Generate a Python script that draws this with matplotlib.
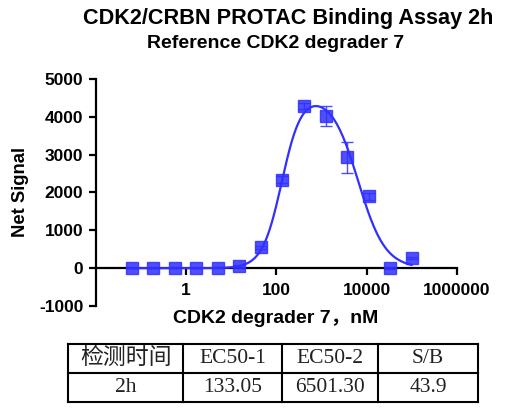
import numpy as np
import matplotlib
matplotlib.use("Agg")
from matplotlib import pyplot as plt
from matplotlib.lines import Line2D

# concentrations (nM), 3-fold dilution series
conc = [0.0627, 0.188, 0.565, 1.69, 5.08, 15.2, 45.7, 137, 412, 1235, 3704, 11111, 33333, 100000]
signal = [5, 8, 10, 8, 12, 60, 556, 2340, 4290, 4020, 2930, 1900, 5, 265]
sd = [10, 10, 10, 10, 15, 30, 40, 100, 80, 260, 410, 90, 15, 20]

# bell-shaped fit parameters
ec50_1 = 133.05
ec50_2 = 6501.30
hill_1 = 2.0
hill_2 = 1.45
peak = 4280

table_header = ["检测时间", "EC50-1", "EC50-2", "S/B"]
table_row = ["2h", "133.05", "6501.30", "43.9"]

blue = "#3030ff"
plt.rcParams['font.family'] = ['Liberation Sans', 'Noto Sans CJK SC']
plt.rcParams['axes.unicode_minus'] = False

fig = plt.figure(figsize=(5.15, 4.17), dpi=100)
ax = fig.add_axes([0.186, 0.266, 0.701, 0.545])

# fitted curve
xs = np.logspace(np.log10(conc[0]), np.log10(conc[-1]), 400)
lx = np.log10(xs)
shape = 1 - 1 / (1 + 10 ** ((lx - np.log10(ec50_1)) * hill_1)) \
          - 1 / (1 + 10 ** ((np.log10(ec50_2) - lx) * hill_2))
shape = np.clip(shape, 0, None)
ax.plot(xs, shape / shape.max() * peak, color=blue, lw=1.6, zorder=3)

ax.errorbar(conc, signal, yerr=sd, fmt='s', color=blue, ms=8, alpha=0.85,
            elinewidth=1.0, capsize=4, capthick=1.0, zorder=4)

ax.set_xscale('log')
ax.set_xlim(0.01, 1e6)
ax.set_ylim(-1000, 5000)
ax.set_xticks([1, 100, 10000, 1000000])
ax.set_xticklabels(["1", "100", "10000", "1000000"])
ax.xaxis.set_minor_locator(matplotlib.ticker.NullLocator())
ax.set_yticks([-1000, 0, 1000, 2000, 3000, 4000, 5000])

for s in ['top', 'right']:
    ax.spines[s].set_visible(False)
ax.spines['bottom'].set_position(('data', 0))
for s in ['left', 'bottom']:
    ax.spines[s].set_linewidth(1.6)
ax.tick_params(width=1.6, length=5, labelsize=12.5)
for lab in ax.get_xticklabels() + ax.get_yticklabels():
    lab.set_fontweight('bold')
ax.tick_params(axis='x', pad=6)
ax.tick_params(axis='y', pad=4)

ax.set_ylabel("Net Signal", fontsize=13.3, fontweight='bold')
ax.yaxis.set_label_coords(-0.185, 0.5)
fig.text(0.536, 0.237, "CDK2 degrader 7，nM", fontsize=14, fontweight='bold',
         ha='center', va='center')

fig.text(0.56, 0.955, "CDK2/CRBN PROTAC Binding Assay 2h", fontsize=15.6,
         fontweight='bold', ha='center', va='center')
fig.text(0.535, 0.895, "Reference CDK2 degrader 7", fontsize=14,
         fontweight='bold', ha='center', va='center')

# summary table
W, H = 515.0, 417.0
cols = [68, 183, 282, 378, 478]
rows = [344, 373, 402]
for yy in rows:
    fig.add_artist(Line2D([cols[0] / W, cols[-1] / W], [1 - yy / H, 1 - yy / H],
                          color='black', lw=1.5))
for xx in cols:
    fig.add_artist(Line2D([xx / W, xx / W], [1 - rows[0] / H, 1 - rows[-1] / H],
                          color='black', lw=1.5))
serif = ['Liberation Serif', 'Noto Sans CJK SC']
for i in range(4):
    cx = (cols[i] + cols[i + 1]) / 2 / W
    fig.text(cx, 1 - (rows[0] + rows[1]) / 2 / H, table_header[i], family=serif,
             fontsize=15.5 if i else 16.5, ha='center', va='center', color='#222222')
    fig.text(cx, 1 - (rows[1] + rows[2]) / 2 / H, table_row[i], family=serif,
             fontsize=15.5, ha='center', va='center', color='#222222')

fig.savefig("out.png", dpi=100)
